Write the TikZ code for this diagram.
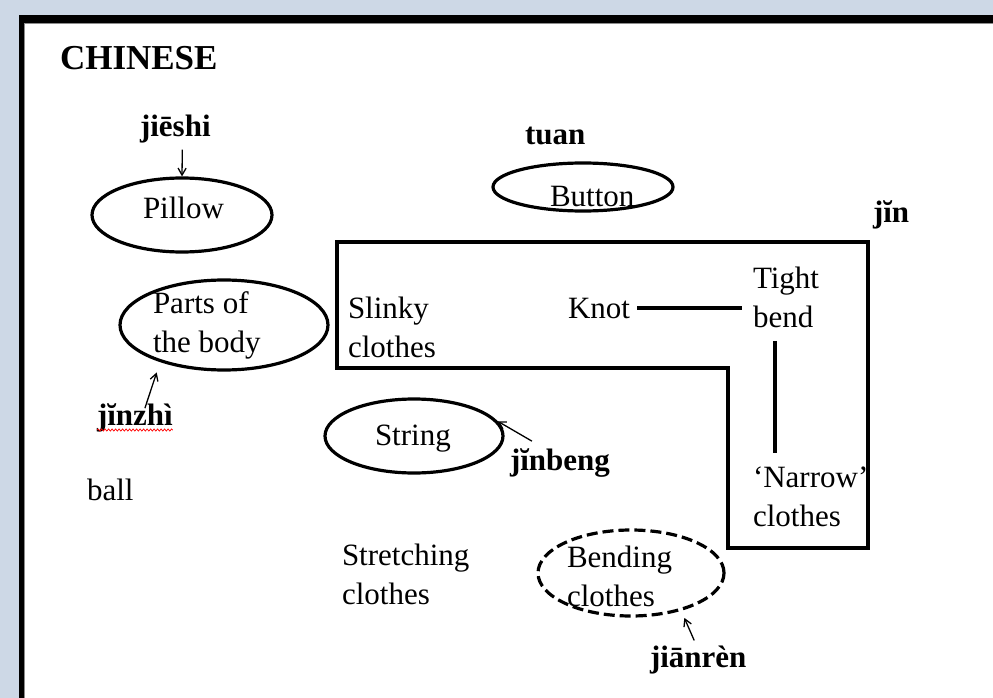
\documentclass[tikz,border=0pt]{standalone}
\usepackage{fontspec}
\setmainfont{Liberation Serif}
\usetikzlibrary{arrows.meta,shapes.geometric,decorations.pathmorphing}
\definecolor{bgblue}{RGB}{205,216,230}
\definecolor{edgegray}{RGB}{140,140,140}
\tikzset{
  txt/.style={inner sep=0pt, outer sep=0pt, font=\fontsize{31}{39}\selectfont, align=left},
  lbl/.style={inner sep=0pt, outer sep=0pt, font=\bfseries\fontsize{31}{39}\selectfont},
  oval/.style={draw, ellipse, line width=3.2pt, inner sep=0pt},
  dashoval/.style={oval, dash pattern=on 11pt off 5pt},
  thickline/.style={line width=3.2pt},
  arr/.style={line width=1.3pt, -{Straight Barb[length=7pt,width=8pt,line width=1.3pt]}},
}
\begin{document}
\begin{tikzpicture}[x=1pt,y=-1pt]
\useasboundingbox (0,0) rectangle (993,698);
% page background and frame
\fill[bgblue] (0,0) rectangle (993,698);
\fill[white] (19,15) rectangle (993,698);
\fill[black] (19,15) rectangle (993,23);
\fill[black] (19,15) rectangle (24,698);
\fill[edgegray] (24,23) rectangle (993,24.2);
\fill[edgegray] (24,23) rectangle (25.2,698);

% title
\node[lbl, font=\bfseries\fontsize{35}{42}\selectfont, anchor=base west] (title) at (60,70) {CHINESE};

% ellipses
\node[oval, minimum width=180pt, minimum height=74pt] (pillow) at (182,215) {};
\node[oval, minimum width=208pt, minimum height=90pt] (parts) at (224,325) {};
\node[oval, minimum width=180pt, minimum height=48pt] (button) at (583,187) {};
\node[oval, minimum width=178pt, minimum height=74pt] (string) at (414,436) {};
\node[dashoval, minimum width=186pt, minimum height=86pt] (bending) at (631,573) {};

% texts inside ellipses
\node[txt, anchor=base west] (pillowtxt) at (143,218) {Pillow};
\node[txt, anchor=north west] (partstxt) at (153,292) {Parts of\\the body};
\node[txt, anchor=base west] (buttontxt) at (550,206) {Button};
\node[txt, anchor=base west] (stringtxt) at (375,445) {String};
\node[txt, anchor=north west] (bendingtxt) at (567,546) {Bending\\clothes};

% L-shaped frame
\draw[thickline] (337,242) -- (868,242) -- (868,548) -- (728,548) -- (728,368) -- (337,368) -- cycle;

% texts in the frame
\node[txt, anchor=north west] (slinky) at (348,297) {Slinky\\clothes};
\node[txt, anchor=base west] (knot) at (568,318) {Knot};
\node[txt, anchor=north west] (tight) at (753,267) {Tight\\bend};
\node[txt, anchor=north west] (narrow) at (753,467) {‘Narrow’\\clothes};

% free texts
\node[txt, anchor=base west] (ball) at (87,500) {ball};
\node[txt, anchor=north west] (stretching) at (342,544) {Stretching\\clothes};

% bold pinyin labels
\node[lbl, anchor=base west] (jieshi) at (140,137) {jiēshi};
\node[lbl, anchor=base west] (tuan) at (525,145) {tuan};
\node[lbl, anchor=base west] (jin) at (873,222) {jĭn};
\node[lbl, anchor=base west] (jinzhi) at (97,425) {jĭnzhì};
\node[lbl, anchor=base west] (jinbeng) at (510,470) {jĭnbeng};
\node[lbl, anchor=base west] (jianren) at (650,667) {jiānrèn};

% spell-check squiggle
\draw[red, line width=0.7pt, decorate, decoration={snake, amplitude=1.1pt, segment length=3.5pt}]
  ([yshift=-5pt]jinzhi.base west) -- ([yshift=-5pt]jinzhi.base east);

% connectors
\draw[thickline] ([xshift=7pt]knot.east) -- ([xshift=-11pt]knot.east -| tight.west);
\draw[thickline] ([xshift=22pt,yshift=-13pt]tight.south west) -- ([xshift=22pt,yshift=14pt]narrow.north west);

% arrows
\draw[arr] ([xshift=7pt,yshift=-6pt]jieshi.south) -- (pillow.north);
\draw[arr] ([xshift=10pt,yshift=-5pt]jinzhi.north) -- ([shift={(-11pt,-8pt)}]parts.215);
\draw[arr] ([xshift=-28pt,yshift=7pt]jinbeng.north) -- (string.10);
\draw[arr] ([xshift=-4pt,yshift=5pt]jianren.north) -- ([shift={(7pt,-6pt)}]bending.-40);
\end{tikzpicture}
\end{document}
